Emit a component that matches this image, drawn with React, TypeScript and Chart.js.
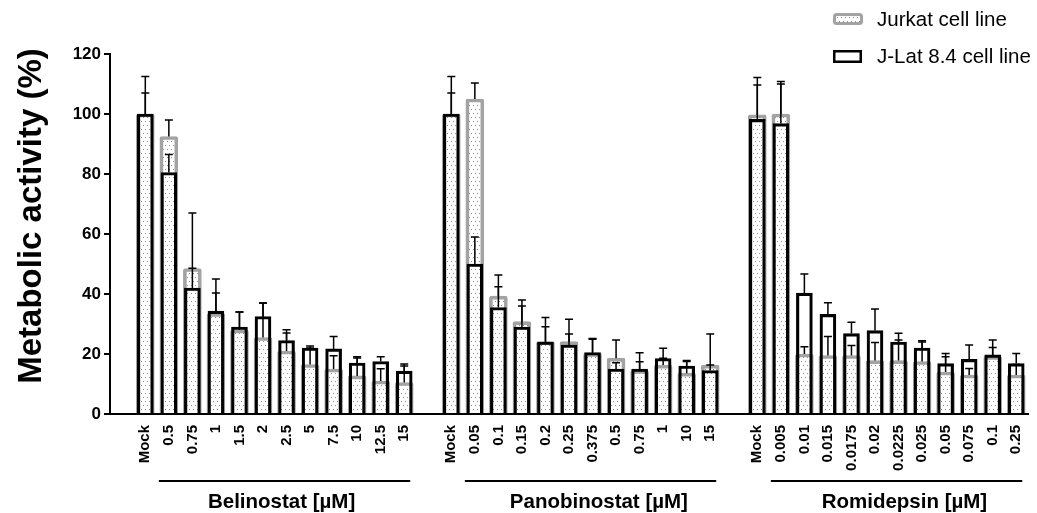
import React, { useEffect, useRef } from "react";
import { Chart, registerables } from "chart.js";

Chart.register(...registerables);

// ---------- DATA ----------
const belinostatDoses = ["Mock", "0.5", "0.75", "1", "1.5", "2", "2.5", "5", "7.5", "10", "12.5", "15"];
const panobinostatDoses = ["Mock", "0.05", "0.1", "0.15", "0.2", "0.25", "0.375", "0.5", "0.75", "1", "10", "15"];
const romidepsinDoses = ["Mock", "0.005", "0.01", "0.015", "0.0175", "0.02", "0.0225", "0.025", "0.05", "0.075", "0.1", "0.25"];

const groupNames = ["Belinostat [µM]", "Panobinostat [µM]", "Romidepsin [µM]"];
const seriesNames = ["Jurkat cell line", "J-Lat 8.4 cell line"];

const belinostatJurkat = [100, 92.5, 48.5, 33.5, 28, 25.5, 21, 16.5, 15, 12.7, 11, 10.5];
const belinostatJurkatErr = [7, 5.5, 18.5, 11.5, 6, 11.5, 6, 5.5, 4.4, 6, 4.1, 5.5];
const belinostatJLat = [100, 80.5, 42, 34.3, 29, 32.5, 24.5, 22, 21.7, 17, 17.5, 14.3];
const belinostatJLatErr = [12.5, 6, 6.6, 6, 5, 4.5, 3.6, 0.7, 4.1, 2.1, 1.6, 2.4];

const panobinostatJurkat = [100, 105, 39.3, 30.8, 24.1, 24.1, 20.2, 18.6, 14.5, 16.3, 13.6, 16.3];
const panobinostatJurkatErr = [7, 5.3, 3.1, 5.2, 8.1, 7.5, 4.7, 6.1, 2.9, 2.3, 4.2, 10.4];
const panobinostatJLat = [100, 50, 35.5, 29, 24, 23, 20.5, 15, 15, 18.5, 16, 14.5];
const panobinostatJLatErr = [12.5, 9, 10.8, 9, 5.1, 3.7, 4.7, 2.1, 5.4, 3.4, 1.5, 1.8];

const romidepsinJurkat = [99.7, 100, 20, 19.5, 19.5, 17.8, 17.8, 17.5, 14, 13, 19.2, 13];
const romidepsinJurkatErr = [10, 10.8, 2.4, 6.3, 3.3, 6, 6.9, 6.5, 6.2, 2.2, 3, 3.5];
const romidepsinJLat = [98.2, 96.8, 40.3, 33.2, 26.8, 27.8, 24, 22, 16.8, 18.2, 19.7, 16.8];
const romidepsinJLatErr = [14, 13.2, 6.4, 3.9, 3.8, 7.2, 2.9, 2.4, 2.3, 4.8, 5, 3.4];

const yTicks = [0, 20, 40, 60, 80, 100, 120];

// ---------- BUILD ----------
const blank = "";
const labels = [blank, ...belinostatDoses, blank, ...panobinostatDoses, blank, ...romidepsinDoses];
const withGaps = (a: number[], b: number[], c: number[]) => [null, ...a, null, ...b, null, ...c];
const jurkatData = withGaps(belinostatJurkat, panobinostatJurkat, romidepsinJurkat);
const jurkatErr = withGaps(belinostatJurkatErr, panobinostatJurkatErr, romidepsinJurkatErr);
const jlatData = withGaps(belinostatJLat, panobinostatJLat, romidepsinJLat);
const jlatErr = withGaps(belinostatJLatErr, panobinostatJLatErr, romidepsinJLatErr);
const groupStarts = [1, 1 + belinostatDoses.length + 1, 1 + belinostatDoses.length + 1 + panobinostatDoses.length + 1];
const groupSizes = [belinostatDoses.length, panobinostatDoses.length, romidepsinDoses.length];

const FONT = '"Liberation Sans", Arial, Helvetica, sans-serif';
const GREY = "#a3a3a3";

function makeDots(): CanvasPattern | string {
  const pc = document.createElement("canvas");
  pc.width = 8;
  pc.height = 8;
  const p = pc.getContext("2d");
  if (!p) return "#eee";
  p.fillStyle = "#8f8f8f";
  p.fillRect(1, 1, 1, 1);
  p.fillRect(5, 1, 1, 1);
  p.fillRect(3, 5, 1, 1);
  p.fillRect(7, 5, 1, 1);
  const c = document.createElement("canvas").getContext("2d");
  return (c && c.createPattern(pc, "repeat")) || "#eee";
}

export default function App() {
  const ref = useRef<HTMLCanvasElement | null>(null);

  useEffect(() => {
    document.body.style.margin = "0";
    const canvas = ref.current;
    if (!canvas) return;
    const dots = makeDots();

    const decor = {
      id: "decor",
      afterDatasetsDraw(chart: any) {
        const ctx = chart.ctx;
        const y = chart.scales.y;
        ctx.save();
        ctx.strokeStyle = "#000";
        ctx.lineWidth = 1.5;
        const series = [
          { idx: 0, vals: jurkatData, errs: jurkatErr },
          { idx: 1, vals: jlatData, errs: jlatErr },
        ];
        for (const s of series) {
          const meta = chart.getDatasetMeta(s.idx);
          s.vals.forEach((v: number | null, i: number) => {
            const e = s.errs[i];
            if (v == null || e == null) return;
            const el = meta.data[i];
            const x = el.x;
            const y0 = y.getPixelForValue(v);
            const y1 = y.getPixelForValue(v + e);
            ctx.beginPath();
            ctx.moveTo(x, y0);
            ctx.lineTo(x, y1);
            ctx.moveTo(x - 4, y1);
            ctx.lineTo(x + 4, y1);
            ctx.stroke();
          });
        }
        ctx.restore();
      },
      afterDraw(chart: any) {
        const ctx = chart.ctx;
        const xs = chart.scales.x;
        ctx.save();
        // group underlines and names
        const labelShift = [0.29, 0.77, 0.75];
        groupStarts.forEach((st, g) => {
          const x0 = xs.getPixelForValue(st + 1) - 10;
          const x1 = xs.getPixelForValue(st + groupSizes[g] - 1) + 6;
          ctx.strokeStyle = "#000";
          ctx.lineWidth = 2;
          ctx.beginPath();
          ctx.moveTo(x0, 481);
          ctx.lineTo(x1, 481);
          ctx.stroke();
          ctx.fillStyle = "#000";
          ctx.font = `bold 20.5px ${FONT}`;
          ctx.textAlign = "center";
          ctx.textBaseline = "alphabetic";
          const cx = xs.getPixelForValue(st + 5.5 + labelShift[g]);
          ctx.fillText(groupNames[g], cx, 508);
        });
        // y axis title
        ctx.save();
        ctx.translate(41, 216);
        ctx.rotate(-Math.PI / 2);
        ctx.font = `bold 33px ${FONT}`;
        ctx.textAlign = "center";
        ctx.textBaseline = "alphabetic";
        ctx.fillStyle = "#000";
        ctx.fillText("Metabolic activity (%)", 0, 0);
        ctx.restore();
        // legend
        ctx.beginPath();
        ctx.roundRect(834.5, 14.5, 27, 9, 2);
        ctx.fillStyle = dots;
        ctx.fill();
        ctx.lineWidth = 3;
        ctx.strokeStyle = GREY;
        ctx.stroke();
        ctx.beginPath();
        ctx.rect(834.25, 51.25, 26.5, 10.5);
        ctx.fillStyle = "#fff";
        ctx.fill();
        ctx.lineWidth = 2.5;
        ctx.strokeStyle = "#000";
        ctx.stroke();
        ctx.fillStyle = "#000";
        ctx.font = `20.5px ${FONT}`;
        ctx.textAlign = "left";
        ctx.textBaseline = "middle";
        ctx.fillText(seriesNames[0], 877, 20);
        ctx.fillText(seriesNames[1], 877, 57);
        ctx.restore();
      },
    };

    const chart = new Chart(canvas, {
      type: "bar",
      data: {
        labels,
        datasets: [
          {
            label: seriesNames[0],
            data: jurkatData as any,
            backgroundColor: dots as any,
            borderColor: GREY,
            borderWidth: 3,
            borderRadius: 2,
            borderSkipped: "start",
            barThickness: 18,
            grouped: false,
            order: 2,
          },
          {
            label: seriesNames[1],
            data: jlatData as any,
            backgroundColor: "rgba(0,0,0,0)",
            borderColor: "#000",
            borderWidth: 2.5,
            borderSkipped: "start",
            barThickness: 16,
            grouped: false,
            order: 1,
          },
        ],
      },
      options: {
        responsive: false,
        maintainAspectRatio: false,
        animation: false,
        layout: { padding: { left: 0, right: 9, top: 54, bottom: 0 } },
        plugins: {
          legend: { display: false },
          tooltip: { enabled: false },
          title: { display: false },
        },
        scales: {
          x: {
            type: "category",
            offset: true,
            grid: { display: false, drawTicks: false },
            border: { display: true, color: "#000", width: 2 },
            ticks: {
              autoSkip: false,
              maxRotation: 90,
              minRotation: 90,
              padding: 11,
              color: "#000",
              font: { family: FONT, size: 15, weight: "bold" },
            },
            afterFit(scale: any) {
              scale.height = 99;
              scale.paddingLeft = 0;
              scale.paddingRight = 0;
            },
          },
          y: {
            min: 0,
            max: 120,
            afterBuildTicks(scale: any) {
              scale.ticks = yTicks.map((v) => ({ value: v }));
            },
            grid: {
              display: true,
              drawOnChartArea: false,
              drawTicks: true,
              tickLength: 6,
              color: "#000",
              lineWidth: 2,
            },
            border: { display: true, color: "#000", width: 2 },
            ticks: {
              padding: 3,
              color: "#000",
              font: { family: FONT, size: 17, weight: "bold" },
            },
            afterFit(scale: any) {
              scale.width = 110;
            },
          },
        },
      },
      plugins: [decor],
    });
    return () => chart.destroy();
  }, []);

  return (
    <div style={{ width: 1037, height: 513 }}>
      <canvas ref={ref} width={1037} height={513} style={{ display: "block" }} />
    </div>
  );
}
